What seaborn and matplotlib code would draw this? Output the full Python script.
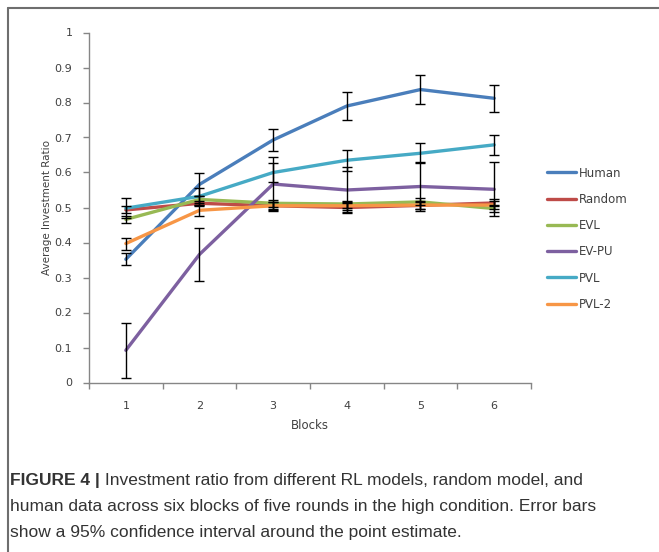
import numpy as np
import pandas as pd
import matplotlib.pyplot as plt
import seaborn as sns

sns.set_style('white')
plt.rcParams['font.family'] = ['DejaVu Sans']

blocks = [1, 2, 3, 4, 5, 6]
models = ['Human', 'Random', 'EVL', 'EV-PU', 'PVL', 'PVL-2']
colors = ['#4a7ebb', '#be4b48', '#98b954', '#7d60a0', '#46aac5', '#f79646']

# mean investment ratio per block
human = [0.352, 0.566, 0.693, 0.790, 0.837, 0.812]
random_m = [0.493, 0.512, 0.505, 0.500, 0.506, 0.513]
evl = [0.466, 0.523, 0.512, 0.510, 0.516, 0.497]
evpu = [0.092, 0.366, 0.567, 0.550, 0.560, 0.552]
pvl = [0.498, 0.532, 0.600, 0.635, 0.655, 0.679]
pvl2 = [0.397, 0.492, 0.505, 0.505, 0.507, 0.507]

# half-width of the 95% CI
human_err = [0.017, 0.033, 0.032, 0.040, 0.042, 0.039]
random_err = [0.010, 0.008, 0.010, 0.012, 0.010, 0.010]
evl_err = [0.009, 0.010, 0.010, 0.010, 0.010, 0.010]
evpu_err = [0.078, 0.076, 0.077, 0.065, 0.070, 0.077]
pvl_err = [0.028, 0.025, 0.028, 0.030, 0.028, 0.028]
pvl2_err = [0.017, 0.016, 0.012, 0.012, 0.012, 0.012]

means = [human, random_m, evl, evpu, pvl, pvl2]
errs = [human_err, random_err, evl_err, evpu_err, pvl_err, pvl2_err]

df = pd.DataFrame({
    'Block': np.tile(blocks, len(models)),
    'Model': np.repeat(models, len(blocks)),
    'Ratio': np.concatenate(means),
    'Err': np.concatenate(errs),
})

fig = plt.figure(figsize=(6.59, 5.52), dpi=100)
ax = fig.add_axes([89 / 659, 1 - 382.5 / 552, (531 - 89) / 659, 350 / 552])

sns.lineplot(data=df, x='Block', y='Ratio', hue='Model', hue_order=models,
             palette=colors, linewidth=2.4, ax=ax, legend=False, zorder=2)
ax.errorbar(df['Block'], df['Ratio'], yerr=df['Err'], fmt='none',
            ecolor='black', elinewidth=1.0, capsize=3.5, capthick=1.0,
            zorder=3)

ax.set_xlim(0.5, 6.5)
ax.set_ylim(0, 1)
ax.set_yticks(np.arange(0, 1.01, 0.1))
ax.set_yticklabels(['0', '0.1', '0.2', '0.3', '0.4', '0.5', '0.6', '0.7',
                    '0.8', '0.9', '1'])
ax.set_xticks(blocks)
ax.set_xticks(np.arange(0.5, 6.6, 1), minor=True)
ax.tick_params(axis='x', which='major', length=0, pad=13,
               labelsize=8, labelcolor='#404040')
ax.tick_params(axis='x', which='minor', length=4, width=1, color='#868686',
               direction='out', bottom=True)
ax.tick_params(axis='y', length=4, width=1, color='#868686', direction='out',
               left=True, labelsize=8, labelcolor='#404040', pad=8)
for side in ['top', 'right']:
    ax.spines[side].set_visible(False)
for side in ['left', 'bottom']:
    ax.spines[side].set_color('#868686')
    ax.spines[side].set_linewidth(1.0)
ax.set_xlabel('Blocks', fontsize=8.5, color='#404040', labelpad=6)
ax.set_ylabel('Average Investment Ratio', fontsize=7.5, color='#404040',
              labelpad=2)

handles = [plt.Line2D([], [], color=c, linewidth=2.4) for c in colors]
fig.legend(handles, models, loc='upper left',
           bbox_to_anchor=(536 / 659, 1 - 156 / 552), frameon=False,
           fontsize=8.5, labelcolor='#404040', labelspacing=1.12,
           handlelength=2.5, handletextpad=0.2)

# panel border (top and left edges only)
fig.add_artist(plt.Line2D([8 / 659, 1], [1 - 8 / 552, 1 - 8 / 552],
                          transform=fig.transFigure, color='#6e6e6e', lw=1.5))
fig.add_artist(plt.Line2D([8 / 659, 8 / 659], [0, 1 - 8 / 552],
                          transform=fig.transFigure, color='#6e6e6e', lw=1.5))

# caption
cap_font = ['Liberation Sans', 'DejaVu Sans']
cap_size = 12.5
t = fig.text(10 / 659, 1 - 485 / 552, 'FIGURE 4 |', fontsize=cap_size,
             fontweight='bold', color='#333333', family=cap_font)
ax.annotate(' Investment ratio from different RL models, random model, and',
            xy=(1, 0), xycoords=t, va='bottom', ha='left',
            fontsize=cap_size, color='#333333', family=cap_font,
            annotation_clip=False)
fig.text(10 / 659, 1 - 511 / 552,
         'human data across six blocks of five rounds in the high condition. Error bars',
         fontsize=cap_size, color='#333333', family=cap_font)
fig.text(10 / 659, 1 - 537 / 552,
         'show a 95% confidence interval around the point estimate.',
         fontsize=cap_size, color='#333333', family=cap_font)

fig.savefig('out.png', dpi=100)
